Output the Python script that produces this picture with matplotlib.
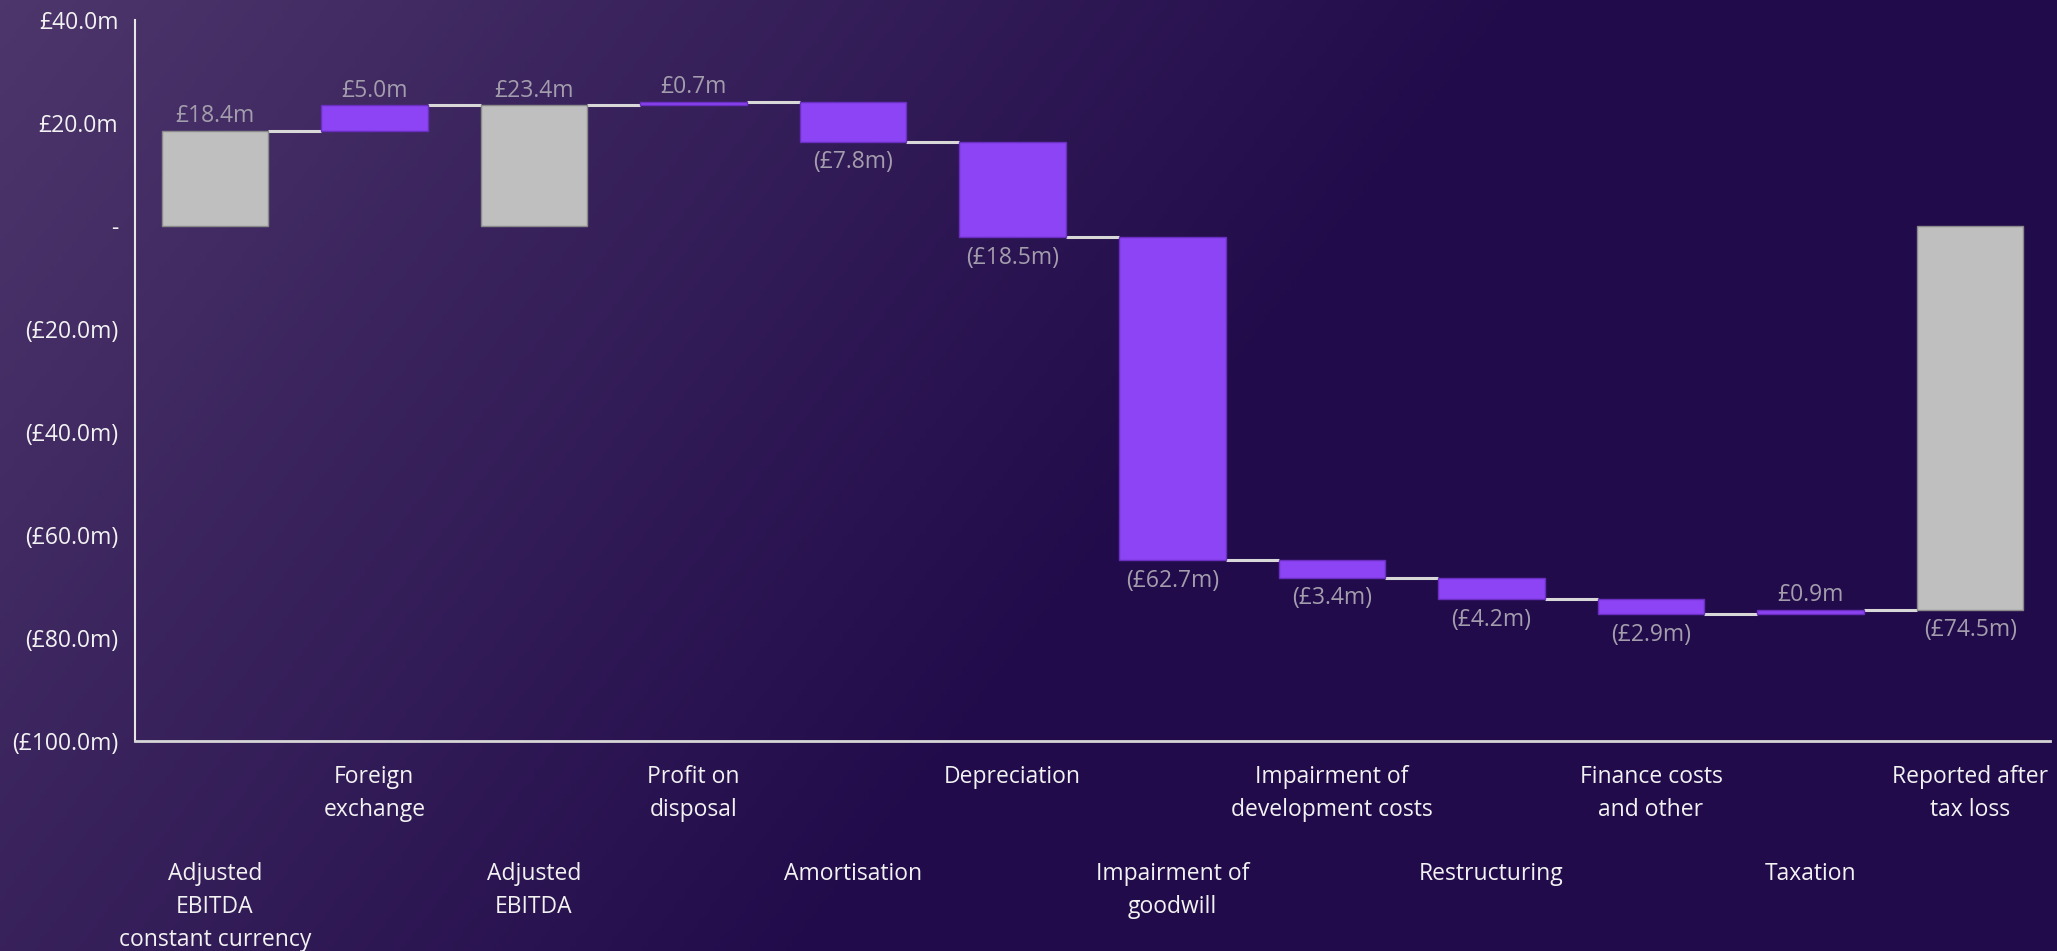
import numpy as np
import matplotlib
matplotlib.use('Agg')
import matplotlib.pyplot as plt
from matplotlib.colors import LinearSegmentedColormap
import matplotlib.transforms as mtransforms

plt.rcParams['font.family'] = ['Open Sans', 'DejaVu Sans']

categories = ['Adjusted\nEBITDA\nconstant currency', 'Foreign\nexchange', 'Adjusted\nEBITDA',
              'Profit on\ndisposal', 'Amortisation', 'Depreciation', 'Impairment of\ngoodwill',
              'Impairment of\ndevelopment costs', 'Restructuring', 'Finance costs\nand other',
              'Taxation', 'Reported after\ntax loss']
values = [18.4, 5.0, 23.4, 0.7, -7.8, -18.5, -62.7, -3.4, -4.2, -2.9, 0.9, -74.5]
is_total = [True, False, True, False, False, False, False, False, False, False, False, True]
yticks = [40, 20, 0, -20, -40, -60, -80, -100]

purple = '#8C44F4'
grey = '#BFBFBF'
label_col = '#A39DAD'
text_col = '#F2F2F2'
fs = 16.5

W, H = 2057, 951
fig = plt.figure(figsize=(W / 100, H / 100), dpi=100)

# gradient background
bg = fig.add_axes([0, 0, 1, 1])
gx, gy = np.meshgrid(np.linspace(0, 1, 400), np.linspace(0, 1, 200))
t = np.clip((gx + 0.35 * gy) / 0.75, 0, 1)
cmap = LinearSegmentedColormap.from_list('bg', ['#4D366B', '#210B4A'])
bg.imshow(t, cmap=cmap, aspect='auto', extent=[0, 1, 1, 0])
bg.axis('off')

ax = fig.add_axes([135 / W, 1 - 741 / H, (2050 - 135) / W, (741 - 20) / H])
ax.set_facecolor('none')

# waterfall levels
bottoms, tops, ends = [], [], []
level = 0
for v, tot in zip(values, is_total):
    if tot:
        b, tp = min(0, v), max(0, v)
        level = v
    else:
        b, tp = min(level, level + v), max(level, level + v)
        level = level + v
    bottoms.append(b)
    tops.append(tp)
    ends.append(level)

width = 0.667
x = np.arange(len(values))
colors = [grey if tot else purple for tot in is_total]
edges = ['#8A8A8A' if tot else '#6A2FC0' for tot in is_total]
ax.bar(x, np.array(tops) - np.array(bottoms), bottom=bottoms, width=width,
       color=colors, edgecolor=edges, linewidth=1, zorder=3)

# connectors
for i in range(len(values) - 1):
    ax.plot([i + width / 2, i + 1 - width / 2], [ends[i], ends[i]],
            color='#D8D8D8', lw=2.2, zorder=2, solid_capstyle='butt')

def fmt(v):
    if v < 0:
        return '(£%.1fm)' % abs(v)
    return '£%.1fm' % v

for i, v in enumerate(values):
    if v >= 0:
        ax.annotate(fmt(v), (i, tops[i]), xytext=(0, 2), textcoords='offset points',
                    ha='center', va='bottom', color=label_col, fontsize=fs)
    else:
        ax.annotate(fmt(v), (i, bottoms[i]), xytext=(0, -6), textcoords='offset points',
                    ha='center', va='top', color=label_col, fontsize=fs)

ax.set_xlim(-0.5, len(values) - 0.5)
ax.set_ylim(-100, 40)
ax.set_yticks(yticks)
ax.set_yticklabels(['-' if v == 0 else fmt(v) for v in yticks], color=text_col, fontsize=fs)
ax.tick_params(axis='y', length=0, pad=12)
ax.set_xticks([])
for s in ['top', 'right']:
    ax.spines[s].set_visible(False)
ax.spines['left'].set_color('#E6E6E6')
ax.spines['bottom'].set_color('#D6D6D6')
ax.spines['left'].set_linewidth(1.5)
ax.spines['bottom'].set_linewidth(2)

trans = mtransforms.blended_transform_factory(ax.transData, ax.transAxes)
for i, c in enumerate(categories):
    y = -0.033 if i % 2 == 1 else -0.168
    ax.text(i, y, c, transform=trans, ha='center', va='top', color=text_col,
            fontsize=fs, linespacing=1.5)

fig.savefig('out.png', dpi=100)
